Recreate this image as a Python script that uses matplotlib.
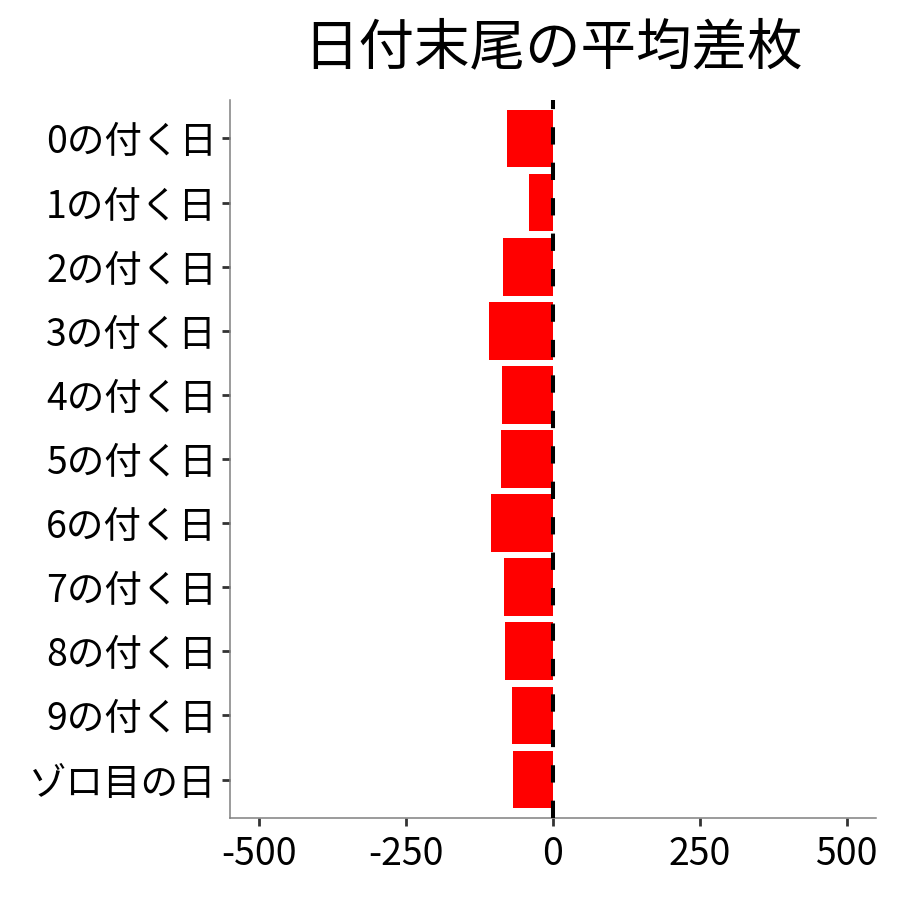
import matplotlib
matplotlib.use("Agg")
import matplotlib.pyplot as plt

plt.rcParams['font.family'] = ['Noto Sans CJK JP', 'DejaVu Sans']
plt.rcParams['axes.unicode_minus'] = False

# data
categories = ["0の付く日", "1の付く日", "2の付く日", "3の付く日", "4の付く日",
              "5の付く日", "6の付く日", "7の付く日", "8の付く日", "9の付く日",
              "ゾロ目の日"]
avg_diff = [-78, -41, -85, -109, -87, -88, -105, -84, -82, -70, -68]
x_ticks = [-500, -250, 0, 250, 500]

fig = plt.figure(figsize=(9, 9), dpi=100)
ax = fig.add_axes([0.2556, 0.0911, 0.7177, 0.7978])

ypos = list(range(len(categories)))
ax.barh(ypos, avg_diff, height=0.9, color='#FF0000', zorder=2)
ax.axvline(0, color='black', lw=2.9, linestyle=(0, (4.3, 4.5)), zorder=3)

ax.set_xlim(-550, 550)
ax.set_ylim(len(categories) - 0.4, -0.6)
ax.set_yticks(ypos)
ax.set_yticklabels(categories)
ax.set_xticks(x_ticks)
ax.set_xticklabels([str(v) for v in x_ticks])

for side in ['top', 'right']:
    ax.spines[side].set_visible(False)
for side in ['left', 'bottom']:
    ax.spines[side].set_color('#808080')
    ax.spines[side].set_linewidth(1.1)

ax.tick_params(axis='both', length=6, width=2, color='#333333',
               labelsize=27, labelcolor='black')
ax.tick_params(axis='y', pad=3.5)
ax.tick_params(axis='x', pad=6)

ax.set_title("日付末尾の平均差枚", fontsize=40, pad=26, x=0.5)

fig.savefig("out.png", dpi=100)
